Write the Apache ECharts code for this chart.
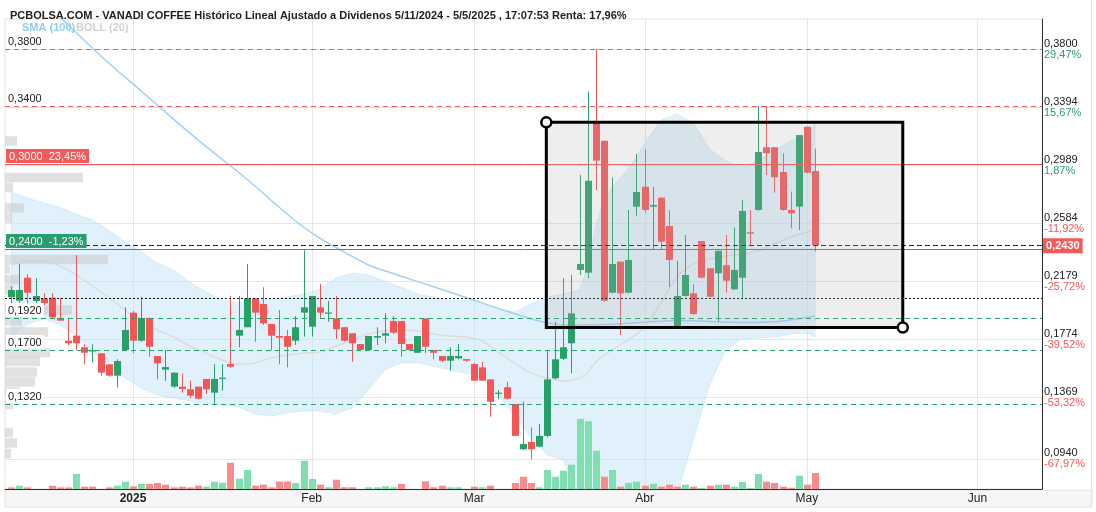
<!DOCTYPE html>
<html><head><meta charset="utf-8">
<script src="https://cdn.jsdelivr.net/npm/echarts@6/dist/echarts.min.js"></script>
<style>html,body{margin:0;padding:0;background:#fff}#c{width:1096px;height:512px}</style>
</head><body><div id="c"></div>
<script>
// ---------- DATA ----------
const titleText = 'PCBOLSA.COM - VANADI COFFEE Histórico Lineal Ajustado a Dividenos 5/11/2024 - 5/5/2025 , 17:07:53 Renta: 17,96%';
// trading-day index of the first session of each month and its label
const monthTicks  = [15, 37, 57, 78, 98, 119];
const monthLabels = ['2025', 'Feb', 'Mar', 'Abr', 'May', 'Jun'];

const openP = [0.2066,0.2042,0.2203,0.2040,0.2059,0.2063,0.1922,0.1763,0.1798,0.1717,
0.1690,0.1675,0.1598,0.1519,0.1698,0.1959,0.1763,0.1922,0.1656,0.1561,
0.1442,0.1442,0.1424,0.1442,0.1496,0.1400,0.1500,0.1600,0.1798,0.1857,
0.2059,0.2019,0.1880,0.1796,0.1796,0.1763,0.1959,0.1861,0.1996,0.1955,
0.1919,0.1857,0.1815,0.1740,0.1698,0.1784,0.1798,0.1901,0.1901,0.1740,
0.1679,0.1919,0.1698,0.1656,0.1623,0.1640,0.1635,0.1600,0.1577,0.1493,
0.1395,0.1438,0.1321,0.1005,0.1056,0.1023,0.1098,0.1500,0.1637,0.1745,
0.2257,0.2238,0.3281,0.3160,0.2098,0.2315,0.2098,0.2699,0.2838,0.2699,
0.2762,0.2564,0.1857,0.2075,0.2094,0.2459,0.2269,0.2234,0.2290,0.2122,
0.2203,0.2520,0.2676,0.3114,0.3114,0.2941,0.2676,0.2699,0.3257,0.2948];
const closeP = [0.2117,0.2117,0.2098,0.2075,0.2024,0.1926,0.1903,0.1745,0.1745,0.1679,
0.1696,0.1540,0.1519,0.1621,0.1838,0.1763,0.1922,0.1721,0.1605,0.1579,
0.1540,0.1426,0.1379,0.1358,0.1424,0.1496,0.1505,0.1581,0.1838,0.2059,
0.1959,0.1884,0.1798,0.1784,0.1721,0.1857,0.1996,0.2075,0.1959,0.1960,
0.1843,0.1763,0.1745,0.1698,0.1796,0.1796,0.1815,0.1819,0.1740,0.1698,
0.1796,0.1721,0.1679,0.1623,0.1656,0.1656,0.1623,0.1484,0.1484,0.1337,
0.1400,0.1358,0.1098,0.1042,0.1005,0.1098,0.1493,0.1633,0.1717,0.1954,
0.2299,0.2880,0.3020,0.2042,0.2299,0.2094,0.2327,0.2801,0.2676,0.2711,
0.2454,0.2327,0.2075,0.2222,0.1949,0.2203,0.2070,0.2391,0.2182,0.2257,
0.2669,0.2510,0.3081,0.3072,0.2904,0.2676,0.2653,0.3199,0.2936,0.2430];
const lowP = [0.2024,0.2024,0.2024,0.2024,0.2012,0.1915,0.1903,0.1733,0.1698,0.1598,
0.1609,0.1517,0.1512,0.1438,0.1698,0.1675,0.1756,0.1651,0.1493,0.1482,
0.1435,0.1400,0.1361,0.1354,0.1391,0.1321,0.1414,0.1574,0.1717,0.1857,
0.1756,0.1873,0.1698,0.1598,0.1577,0.1733,0.1791,0.1791,0.1919,0.1896,
0.1775,0.1756,0.1616,0.1693,0.1698,0.1733,0.1745,0.1810,0.1651,0.1693,
0.1675,0.1675,0.1633,0.1616,0.1554,0.1633,0.1616,0.1484,0.1484,0.1232,
0.1354,0.1354,0.1098,0.1000,0.0935,0.1019,0.1088,0.1493,0.1628,0.1535,
0.2222,0.2199,0.2815,0.2035,0.2094,0.1803,0.2094,0.2636,0.2657,0.2396,
0.2396,0.2140,0.1850,0.2070,0.1942,0.2199,0.2066,0.1896,0.2098,0.2117,
0.2052,0.2431,0.2671,0.2920,0.2797,0.2671,0.2548,0.2536,0.2932,0.2385];
const highP = [0.2140,0.2299,0.2227,0.2199,0.2094,0.2094,0.2063,0.1922,0.2361,0.1738,
0.1738,0.1675,0.1598,0.1633,0.1996,0.1972,0.2070,0.1922,0.1656,0.1698,
0.1540,0.1535,0.1484,0.1442,0.1496,0.1600,0.1600,0.2075,0.2075,0.2299,
0.2059,0.2136,0.1880,0.1977,0.1838,0.1935,0.2395,0.2075,0.2159,0.2040,
0.2075,0.1857,0.1815,0.1740,0.1796,0.1857,0.1954,0.1935,0.1901,0.1740,
0.1796,0.1919,0.1698,0.1656,0.1717,0.1740,0.1635,0.1609,0.1616,0.1493,
0.1419,0.1477,0.1321,0.1337,0.1158,0.1181,0.1698,0.1896,0.2199,0.2222,
0.2920,0.3502,0.3800,0.3160,0.2904,0.2315,0.2676,0.3067,0.3100,0.2838,
0.2762,0.2676,0.2322,0.2501,0.2157,0.2459,0.2269,0.2391,0.2501,0.2555,
0.2746,0.2676,0.3402,0.3402,0.3114,0.3072,0.2804,0.3199,0.3257,0.3104];
// volume (thousands of shares) and whether its bar is drawn as "up"
const volume = [16,33,16,0,0,33,16,16,150,23, 23,0,16,33,73,26,50,50,60,43,
16,23,16,33,23,73,63,263,103,190, 33,43,16,75,75,60,283,100,43,17,
93,17,17,0,17,17,27,17,50,0, 0,77,17,33,17,17,0,23,17,33,
0,0,60,123,60,17,190,123,183,243, 700,677,383,123,190,23,60,73,33,53,
23,43,23,43,23,10,33,43,43,23, 70,10,150,73,60,23,13,133,43,160];
const volUp = [0,1,0,0,0,0,0,0,1,0, 0,0,0,1,1,0,1,0,0,0, 0,0,0,0,1,1,1,0,1,1,
0,0,0,0,0,1,1,1,0,1, 0,0,0,0,1,1,1,1,0,0, 0,0,0,0,1,1,0,0,1,0,
0,0,0,0,0,1,1,1,1,1, 1,1,1,0,1,0,1,1,0,1, 0,0,0,1,0,1,0,1,0,1,
1,1,1,0,0,0,0,1,0,0];

// Bollinger (20) read at sample sessions
const bollIdx = [0,2,4,6,8,10,12,14,16,18,20,22,24,26,28,30,32,34,36,38,40,42,44,46,48,50,52,54,56,58,60,62,64,66,68,70,71,72,73,74,76,78,80,82,84,86,88,90,92,94,96,98,99];
const bollUpper = [0.2801,0.2760,0.2725,0.2697,0.2648,0.2606,0.2536,0.2452,0.2382,0.2306,
0.2257,0.2173,0.2103,0.2047,0.2026,0.2040,0.2054,0.2068,0.2089,0.2124,
0.2201,0.2236,0.2222,0.2180,0.2138,0.2089,0.2068,0.2047,0.2047,0.2026,
0.1984,0.1963,0.2019,0.2068,0.2089,0.2117,0.2271,0.2571,0.2746,0.2836,
0.2962,0.3137,0.3304,0.3346,0.3283,0.3102,0.3018,0.2976,0.3018,0.3095,0.3158,0.3192,0.3283];
const bollMid = [0.2292,0.2320,0.2320,0.2285,0.2222,0.2145,0.2068,0.1977,0.1908,0.1838,
0.1789,0.1726,0.1677,0.1628,0.1600,0.1607,0.1642,0.1663,0.1677,0.1684,
0.1726,0.1768,0.1810,0.1831,0.1838,0.1831,0.1810,0.1796,0.1789,0.1761,
0.1684,0.1607,0.1537,0.1503,0.1482,0.1503,0.1544,0.1614,0.1663,0.1698,
0.1768,0.1859,0.2026,0.2208,0.2299,0.2334,0.2354,0.2368,0.2389,0.2438,0.2487,0.2522,0.2536];
const bollLower = [0.1789,0.1880,0.1915,0.1873,0.1796,0.1684,0.1600,0.1503,0.1433,0.1384,
0.1363,0.1342,0.1328,0.1314,0.1300,0.1251,0.1237,0.1258,0.1272,0.1272,
0.1251,0.1293,0.1419,0.1558,0.1607,0.1607,0.1586,0.1558,0.1537,0.1496,
0.1384,0.1237,0.1084,0.0965,0.0930,0.0651,0.0511,0.0441,0.0441,0.0441,
0.0441,0.0441,0.0511,0.0686,0.1070,0.1454,0.1698,0.1775,0.1782,0.1789,0.1810,0.1817,0.1789];

// SMA (100) read at sample sessions
const smaIdx = [0,7,12,16,23,29,35,38,41,44,47,51,56,61,65,68,75,82,90,95,99];
const smaVal = [0.4345,0.3968,0.3702,0.3507,0.3165,0.2892,0.2599,0.2480,0.2382,0.2292,0.2232,0.2159,0.2065,0.1970,0.1901,0.1873,0.1880,0.1904,0.1890,0.1901,0.1936];

// volume-at-price profile (left side)
const profPrice = [0.3158,0.2903,0.2833,0.2690,0.2620,0.2330,0.2264,0.2190,0.2121,0.1977,0.1901,0.1824,0.1747,0.1681,0.1618,0.1544,0.1475,0.1405,0.1317,0.1122,0.1049,0.0975];
const profVol   = [12,78,8,19,7,103,5,15,8,67,17,43,38,45,35,32,30,15,8,8,12,6];

// drawn horizontal levels and their left-side labels
const levelPrices = [0.38, 0.34, 0.30, 0.2430, 0.24, 0.2060, 0.192, 0.170, 0.132];
const levelLabels = ['0,3800', '0,3400', '0,3000  23,45%', '', '0,2400  -1,23%', '', '0,1920', '0,1700', '0,1320'];

// right axis ticks
const rightTicks = [0.3800, 0.3394, 0.2989, 0.2584, 0.2179, 0.1774, 0.1369, 0.0940];
const rightTickText = ['0,3800', '0,3394', '0,2989', '0,2584', '0,2179', '0,1774', '0,1369', '0,0940'];
const rightPctText = ['29,47%', '15,67%', '1,87%', '-11,92%', '-25,72%', '-39,52%', '-53,32%', '-67,97%'];
const lastPrice = 0.2430, lastPriceText = '0,2430';

// rectangle drawing: [session, price] of two corners
const boxCorners = [[65.9, 0.3288], [109.8, 0.1855]];

// ---------- STYLES ----------
const GREEN = '#26a269', RED = '#f55555';
const VGREEN = '#7fdfb1', VRED = '#f88b8b';
const levelStyles = [
  {c: '#f05a5a', t: [5, 4], w: 1},
  {c: '#f05a5a', t: [5, 4], w: 1},
  {c: '#f05a5a', t: null, w: 1, box: '#f55a5a'},
  {c: '#1010c8', t: [5, 3], w: 1},
  {c: '#26a269', t: null, w: 1, box: '#2a9d6c'},
  {c: '#111111', t: [2, 2], w: 1},
  {c: '#26a269', t: [5, 4], w: 1},
  {c: '#26a269', t: [5, 4], w: 1},
  {c: '#26a269', t: [5, 4], w: 1}
];
const FONT = 'Liberation Sans, Arial, sans-serif';

const chart = echarts.init(document.getElementById('c'), null, {renderer: 'canvas'});
const X_MIN = -0.7635, X_MAX = 126.946;

const candleData = openP.map((o, i) => [i, o, closeP[i], lowP[i], highP[i]]);
const volData = volume.map((v, i) => [i, v, volUp[i]]);
const bandData = bollIdx.map((i, k) => [i, bollUpper[k], bollLower[k]]);

const option = {
  animation: false,
  backgroundColor: '#ffffff',
  title: {text: titleText, left: 5, top: 5,
    textStyle: {fontFamily: FONT, fontSize: 11, fontWeight: 'bold', color: '#222'}},
  grid: {left: 5, right: 54, top: 19, bottom: 23, show: true, borderColor: '#e3e3e3', borderWidth: 1},
  xAxis: [
    {type: 'value', min: X_MIN, max: X_MAX, position: 'bottom',
      axisLine: {show: true, onZero: false, lineStyle: {color: '#333', width: 1}},
      axisTick: {show: false}, splitLine: {show: false},
      axisLabel: {customValues: monthTicks, margin: 4, fontFamily: FONT, fontSize: 12, color: '#222',
        formatter: v => { const k = monthTicks.indexOf(v); return k === 0 ? '{b|' + monthLabels[k] + '}' : (k >= 0 ? monthLabels[k] : ''); },
        rich: {b: {fontWeight: 'bold', fontFamily: FONT, fontSize: 12, color: '#222'}}}},
    {type: 'value', min: 0, max: 1037, show: false}
  ],
  yAxis: [
    {type: 'value', position: 'right', min: 0.07274, max: 0.40095,
      axisLine: {show: true, onZero: false, lineStyle: {color: '#333', width: 1}},
      axisTick: {show: false}, splitLine: {show: false},
      axisLabel: {customValues: rightTicks, margin: 2, align: 'left', fontFamily: FONT, fontSize: 11,
        formatter: v => {
          let k = rightTicks.findIndex(t => Math.abs(t - v) < 1e-7);
          if (k < 0) return '';
          const pc = rightPctText[k];
          return '{p|' + rightTickText[k] + '}\n' + (pc.charAt(0) === '-' ? '{r|' : '{g|') + pc + '}';
        },
        rich: {
          p: {color: '#222', fontFamily: FONT, fontSize: 11, lineHeight: 11},
          g: {color: '#2b9f6e', fontFamily: FONT, fontSize: 11, lineHeight: 11},
          r: {color: '#f55555', fontFamily: FONT, fontSize: 11, lineHeight: 11}
        }}},
    {type: 'value', min: 0, max: 4700, show: false, axisLine: {onZero: false}}
  ],
  series: [
    // horizontal + vertical grid lines
    {type: 'custom', z: 1, silent: true, data: rightTicks.map(v => [0, v]),
      renderItem: (p, api) => {
        const cs = p.coordSys; const y = Math.round(api.coord([0, api.value(1)])[1]) + 0.5;
        return {type: 'line', shape: {x1: cs.x, y1: y, x2: cs.x + cs.width, y2: y}, style: {stroke: '#e6e6e6', lineWidth: 1}};
      }},
    {type: 'custom', z: 1, silent: true, data: monthTicks.map(v => [v, 0.2]),
      renderItem: (p, api) => {
        const cs = p.coordSys; const x = Math.round(api.coord([api.value(0), 0.2])[0]) + 0.5;
        return {type: 'line', shape: {x1: x, y1: cs.y, x2: x, y2: cs.y + cs.height}, style: {stroke: '#e6e6e6', lineWidth: 1}};
      }},
    // Bollinger band fill
    {type: 'custom', z: 2, silent: true, clip: true, data: bandData,
      encode: {x: 0, y: [1, 2]},
      renderItem: (p, api) => {
        if (p.dataIndex !== 0) return null;
        const pts = [];
        bandData.forEach(d => pts.push(api.coord([d[0], d[1]])));
        for (let k = bandData.length - 1; k >= 0; k--) pts.push(api.coord([bandData[k][0], bandData[k][2]]));
        return {type: 'polygon', shape: {points: pts}, style: {fill: 'rgba(196,228,250,0.5)', stroke: 'rgba(170,215,245,0.35)', lineWidth: 1}};
      }},
    {type: 'line', z: 3, silent: true, data: bollIdx.map((i, k) => [i, bollMid[k]]), showSymbol: false, smooth: 0.3,
      lineStyle: {color: '#dcdcdc', width: 1.5}},
    {type: 'line', z: 3, silent: true, data: smaIdx.map((i, k) => [i, smaVal[k]]), showSymbol: false, smooth: 0.3,
      lineStyle: {color: '#9fd1f6', width: 1.5}},
    // volume profile
    {type: 'custom', z: 4, silent: true, xAxisIndex: 1, yAxisIndex: 0, data: profPrice.map((pp, k) => [profVol[k], pp]),
      renderItem: (p, api) => {
        const a = api.coord([0, api.value(1) + 0.0033]);
        const b = api.coord([api.value(0), api.value(1) - 0.0033]);
        return {type: 'rect', shape: {x: a[0], y: a[1], width: b[0] - a[0], height: b[1] - a[1]}, style: {fill: 'rgba(200,200,200,0.55)'}};
      }},
    // volume bars
    {type: 'custom', z: 5, silent: true, yAxisIndex: 1, data: volData,
      renderItem: (p, api) => {
        const i = api.value(0), v = api.value(1);
        if (!v) return null;
        const top = api.coord([i, v]), base = api.coord([i, 0]);
        const x = Math.round(top[0]);
        return {type: 'rect', shape: {x: x - 3, y: top[1], width: 7, height: base[1] - top[1]},
          style: {fill: api.value(2) ? VGREEN : VRED}};
      }},
    // candles
    {type: 'custom', z: 6, silent: true, data: candleData, encode: {x: 0, y: [1, 2, 3, 4]},
      renderItem: (p, api) => {
        const i = api.value(0), o = api.value(1), c = api.value(2), l = api.value(3), h = api.value(4);
        const x = Math.round(api.coord([i, o])[0]);
        const yo = api.coord([i, o])[1], yc = api.coord([i, c])[1], yl = api.coord([i, l])[1], yh = api.coord([i, h])[1];
        const col = c >= o ? GREEN : RED;
        const top = Math.min(yo, yc), ht = Math.max(Math.abs(yo - yc), 1.2);
        return {type: 'group', children: [
          {type: 'line', shape: {x1: x + 0.5, y1: yh, x2: x + 0.5, y2: yl}, style: {stroke: col, lineWidth: 1}},
          {type: 'rect', shape: {x: x - 3, y: top, width: 7, height: ht}, style: {fill: col}}
        ]};
      }},
    // level lines
    {type: 'custom', z: 7, silent: true, data: levelPrices.map(v => [0, v]),
      renderItem: (p, api) => {
        const cs = p.coordSys, st = levelStyles[p.dataIndex];
        const y = Math.round(api.coord([0, api.value(1)])[1]) + 0.5;
        return {type: 'line', shape: {x1: cs.x, y1: y, x2: cs.x + cs.width, y2: y},
          style: {stroke: st.c, lineWidth: st.w, lineDash: st.t || null}};
      }},
    // rectangle drawing
    {type: 'custom', z: 8, silent: true, clip: false, data: [[boxCorners[0][0], boxCorners[0][1], boxCorners[1][0], boxCorners[1][1]]],
      encode: {x: [0, 2], y: [1, 3]},
      renderItem: (p, api) => {
        const a = api.coord([api.value(0), api.value(1)]), b = api.coord([api.value(2), api.value(3)]);
        return {type: 'group', children: [
          {type: 'rect', shape: {x: a[0], y: a[1], width: b[0] - a[0], height: b[1] - a[1]},
            style: {fill: 'rgba(175,175,175,0.21)', stroke: '#000', lineWidth: 3}},
          {type: 'circle', shape: {cx: a[0], cy: a[1], r: 5}, style: {fill: '#fff', stroke: '#000', lineWidth: 2.5}},
          {type: 'circle', shape: {cx: b[0], cy: b[1], r: 5}, style: {fill: '#fff', stroke: '#000', lineWidth: 2.5}}
        ]};
      }},
    // left labels of the levels
    {type: 'custom', z: 9, silent: true, clip: false, data: levelPrices.map(v => [0, v]),
      renderItem: (p, api) => {
        const txt = levelLabels[p.dataIndex];
        if (!txt) return null;
        const cs = p.coordSys, st = levelStyles[p.dataIndex];
        const y = Math.round(api.coord([0, api.value(1)])[1]);
        if (st.box) {
          return {type: 'text', x: cs.x + 1, y: y - 1, style: {text: txt, fill: '#fff', font: '11px ' + FONT,
            backgroundColor: st.box, padding: [2, 3, 1, 3], verticalAlign: 'bottom', align: 'left'}};
        }
        return {type: 'text', x: cs.x + 1, y: y - 1, style: {text: txt, fill: '#222', font: '11px ' + FONT,
          backgroundColor: '#fff', padding: [2, 2, 1, 2], verticalAlign: 'bottom', align: 'left'}};
      }},
    // last price box on the right axis
    {type: 'custom', z: 10, silent: true, clip: false, data: [[0, lastPrice]],
      renderItem: (p, api) => {
        const cs = p.coordSys; const y = api.coord([0, api.value(1)])[1];
        return {type: 'text', x: cs.x + cs.width + 1, y: y + 0.5, style: {text: lastPriceText, fill: '#fff',
          font: 'bold 11px ' + FONT, backgroundColor: '#f55a5a', padding: [2, 3, 2, 3], verticalAlign: 'middle', align: 'left'}};
      }}
  ],
  graphic: [
    {type: 'rect', z: -10, silent: true, shape: {x: 5, y: 490, width: 1087, height: 17}, style: {fill: '#f6f6f6', stroke: '#e4e4e4', lineWidth: 1}},
    {type: 'line', z: -10, silent: true, shape: {x1: 1091.5, y1: 0, x2: 1091.5, y2: 507}, style: {stroke: '#e4e4e4', lineWidth: 1}},
    {type: 'text', z: 20, silent: true, x: 22, y: 28, style: {text: 'SMA (100)', fill: '#90cbf4', font: 'bold 11px ' + FONT, verticalAlign: 'middle'}},
    {type: 'text', z: 20, silent: true, x: 76, y: 28, style: {text: 'BOLL (20)', fill: '#d2d2d2', font: 'bold 11px ' + FONT, verticalAlign: 'middle'}}
  ]
};
chart.setOption(option);
</script>
</body></html>
